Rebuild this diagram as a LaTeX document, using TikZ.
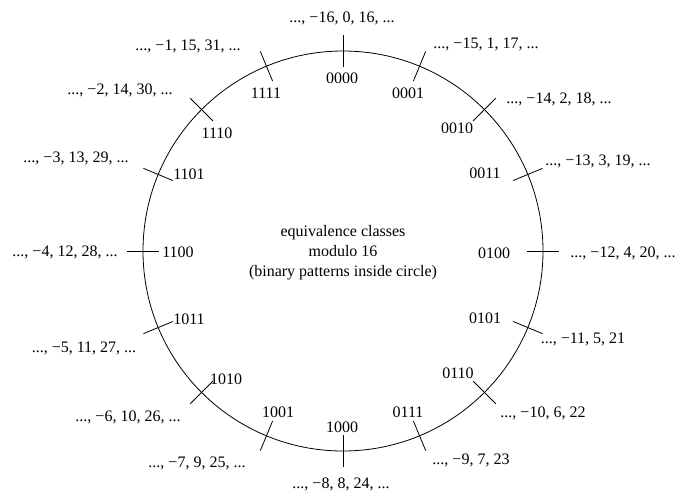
\documentclass[tikz,border=0pt]{standalone}
\usepackage{fontspec}
\setmainfont{Liberation Serif}
\usetikzlibrary{calc}
\begin{document}
\begin{tikzpicture}[x=1pt,y=-1pt,
  lbl/.style={inner sep=0pt,font=\fontsize{16}{20}\selectfont},
  tick/.style={line width=0.8pt},
  ring/.style={line width=0.8pt}]
\useasboundingbox (0,0) rectangle (683,493);
\coordinate (c) at (343,251);
\draw[ring] (c) circle[radius=200];
\foreach \i/\bx/\by/\bt/\ox/\oy/\ot in {
 0/342/78/0000/342/18/{..., −16, 0, 16, ...},
 1/408/93/0001/486/44/{..., −15, 1, 17, ...},
 2/457/128/0010/559/99/{..., −14, 2, 18, ...},
 3/485/173/0011/598/161/{..., −13, 3, 19, ...},
 4/494/253/0100/623/253/{..., −12, 4, 20, ...},
 5/485/318/0101/583/339/{..., −11, 5, 21},
 6/458/373/0110/543/413/{..., −10, 6, 22},
 7/408/412/0111/471/460/{..., −9, 7, 23},
 8/342/427/1000/341/484/{..., −8, 8, 24, ...},
 9/278/412/1001/197/463/{..., −7, 9, 25, ...},
 10/226/379/1010/128/417/{..., −6, 10, 26, ...},
 11/189/319/1011/84/348/{..., −5, 11, 27, ...},
 12/178/252/1100/65/252/{..., −4, 12, 28, ...},
 13/189/174/1101/76/158/{..., −3, 13, 29, ...},
 14/217/133/1110/120/90/{..., −2, 14, 30, ...},
 15/266/93/1111/188/46/{..., −1, 15, 31, ...}}{
  \pgfmathsetmacro{\ang}{22.5*\i-90}
  \coordinate (ti\i) at ($(c)+(\ang:184)$);
  \coordinate (to\i) at ($(c)+(\ang:216)$);
  \draw[tick] (ti\i) -- (to\i);
  \node[lbl] (b\i) at (\bx,\by) {\bt};
  \node[lbl] (o\i) at (\ox,\oy) {\ot};
}
\node[lbl,align=center] (mid) at (343,253) {equivalence classes\\modulo 16\\(binary patterns inside circle)};
\end{tikzpicture}
\end{document}
